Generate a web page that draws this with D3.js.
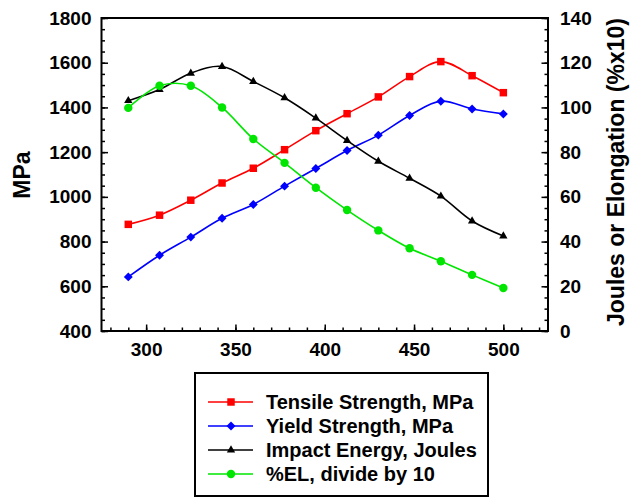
<!DOCTYPE html>
<html>
<head>
<meta charset="utf-8">
<script src="https://cdn.jsdelivr.net/npm/d3@7"></script>
<style>
  body { margin: 0; background: #fff; }
  svg { font-family: Arial, "Liberation Sans", sans-serif; font-weight: bold; }
</style>
</head>
<body>
<svg id="chart" width="630" height="497"></svg>
<script>
// temperatures
const temps = [290, 307.5, 325, 342.5, 360, 377.5, 395, 412.5, 430, 447.5, 465, 482.5, 500];

// left axis, MPa
const tensile = [877, 918, 985, 1062, 1128, 1211, 1296, 1372, 1447, 1538, 1605, 1542, 1466];
const yieldStr = [642, 739, 820, 904, 966, 1048, 1127, 1207, 1276, 1364, 1428, 1393, 1371];

// right axis, joules / elongation
const impact = [103, 108, 115.3, 118.3, 111.6, 104.3, 95.2, 85.2, 75.9, 68.3, 60.3, 49.2, 42.5];
const elong = [99.8, 109.7, 109.7, 100, 85.9, 75.2, 64.1, 54.1, 45, 37, 31.2, 25.1, 19.2];

const xTicks = [300, 350, 400, 450, 500];
const yLeftTicks = [400, 600, 800, 1000, 1200, 1400, 1600, 1800];
const yRightTicks = [0, 20, 40, 60, 80, 100, 120, 140];

const legendNames = ["Tensile Strength, MPa", "Yield Strength, MPa", "Impact Energy, Joules", "%EL, divide by 10"];

const svg = d3.select("#chart");
const plotL = 101.5, plotR = 548, plotT = 18, plotB = 331;

const x = d3.scaleLinear().domain([275, 525]).range([plotL, plotR]);
const yL = d3.scaleLinear().domain([400, 1800]).range([plotB, plotT]);
const yR = d3.scaleLinear().domain([0, 140]).range([plotB, plotT]);

const series = [
  { vals: tensile, scale: yL, color: "#ff0000", shape: "square" },
  { vals: yieldStr, scale: yL, color: "#0000ff", shape: "diamond" },
  { vals: impact, scale: yR, color: "#000000", shape: "triangle" },
  { vals: elong, scale: yR, color: "#00e600", shape: "circle" }
];

function markerPath(shape) {
  if (shape == "square") return d3.symbol(d3.symbolSquare, 56)();
  if (shape == "diamond") return d3.symbol(d3.symbolSquare, 40)();
  if (shape == "triangle") return d3.symbol(d3.symbolTriangle, 30)();
  return d3.symbol(d3.symbolCircle, 56)();
}

// minor ticks
function minor(axis, values, g) {
  g.call(axis.tickValues(values).tickFormat("").tickSize(-3.5))
    .call(s => s.select(".domain").remove());
}
minor(d3.axisBottom(x), d3.range(280, 521, 10), svg.append("g").attr("transform", `translate(0,${plotB})`));
minor(d3.axisLeft(yL), d3.range(400, 1801, 50), svg.append("g").attr("transform", `translate(${plotL},0)`));
minor(d3.axisRight(yR), d3.range(0, 141, 5), svg.append("g").attr("transform", `translate(${plotR},0)`));

// major ticks + labels
const fmt = d3.format("d");
const xAxis = svg.append("g").attr("transform", `translate(0,${plotB})`)
  .call(d3.axisBottom(x).tickValues(xTicks).tickFormat(fmt).tickSize(-6.5).tickPadding(12));
const yAxisL = svg.append("g").attr("transform", `translate(${plotL},0)`)
  .call(d3.axisLeft(yL).tickValues(yLeftTicks).tickFormat(fmt).tickSize(-6.5).tickPadding(10));
const yAxisR = svg.append("g").attr("transform", `translate(${plotR},0)`)
  .call(d3.axisRight(yR).tickValues(yRightTicks).tickFormat(fmt).tickSize(-6.5).tickPadding(12));

[xAxis, yAxisL, yAxisR].forEach(a => {
  a.select(".domain").remove();
  a.selectAll(".tick text").style("font-size", "19px").style("font-weight", "bold")
    .style("font-family", "Arial, 'Liberation Sans', sans-serif").attr("fill", "#000");
});
svg.selectAll("g .tick line").attr("stroke", "#000").attr("stroke-width", 1.5);

// frame
svg.append("rect")
  .attr("x", plotL).attr("y", plotT)
  .attr("width", plotR - plotL).attr("height", plotB - plotT)
  .attr("fill", "none").attr("stroke", "#000").attr("stroke-width", 2);

// axis titles
svg.append("text")
  .attr("transform", `translate(30,175) rotate(-90)`)
  .attr("text-anchor", "middle")
  .style("font-size", "23px")
  .text("MPa");

svg.append("text")
  .attr("transform", `translate(624,172) rotate(-90)`)
  .attr("text-anchor", "middle")
  .style("font-size", "23px")
  .text("Joules or Elongation (%x10)");

// lines + markers
series.forEach(s => {
  const pts = temps.map((t, i) => [x(t), s.scale(s.vals[i])]);
  svg.append("path")
    .attr("d", d3.line().curve(d3.curveCatmullRom.alpha(0.5))(pts))
    .attr("fill", "none")
    .attr("stroke", s.color)
    .attr("stroke-width", 1.6);
  svg.selectAll(null)
    .data(pts)
    .enter()
    .append("path")
    .attr("d", markerPath(s.shape))
    .attr("transform", d => `translate(${d[0]},${d[1]})` + (s.shape == "diamond" ? " rotate(45)" : ""))
    .attr("fill", s.color);
});

// legend
const legend = svg.append("g").attr("transform", "translate(195,373)");
legend.append("rect")
  .attr("width", 293).attr("height", 123)
  .attr("fill", "none").attr("stroke", "#000").attr("stroke-width", 2);

legendNames.forEach((name, i) => {
  const s = series[i];
  const row = legend.append("g").attr("transform", `translate(0,${29 + i * 24})`);
  row.append("line")
    .attr("x1", 13).attr("x2", 58)
    .attr("stroke", s.color).attr("stroke-width", 1.6);
  row.append("path")
    .attr("d", markerPath(s.shape))
    .attr("transform", "translate(36,0)" + (s.shape == "diamond" ? " rotate(45)" : ""))
    .attr("fill", s.color);
  row.append("text")
    .attr("x", 71).attr("y", 7)
    .style("font-size", "20px")
    .text(name);
});
</script>
</body>
</html>
